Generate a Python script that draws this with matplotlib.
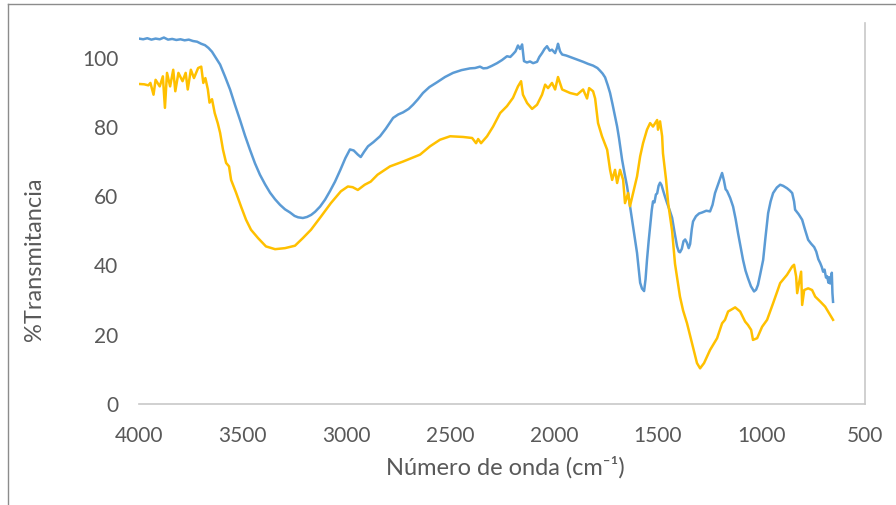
import matplotlib
matplotlib.use("Agg")
import matplotlib.pyplot as plt
from matplotlib.lines import Line2D

# FTIR spectra, wavenumber (cm-1) vs %T
blue_wn = [
    4000, 3980, 3960, 3940, 3920, 3900, 3880, 3860, 3840, 3820, 3800, 3780,
    3760, 3740, 3720, 3700, 3682, 3665, 3648, 3630, 3609, 3585, 3561, 3537,
    3513, 3489, 3465, 3441, 3417, 3392, 3368, 3344, 3320, 3296, 3272, 3250,
    3233, 3210, 3190, 3170, 3151, 3127, 3103, 3079, 3055, 3030, 3005, 2983,
    2965, 2945, 2931, 2915, 2896, 2870, 2838, 2810, 2775, 2750, 2727, 2700,
    2679, 2655, 2631, 2600, 2563, 2525, 2486, 2445, 2404, 2380, 2356, 2340,
    2322, 2300, 2274, 2250, 2226, 2210, 2197, 2185, 2173, 2163, 2153, 2144,
    2130, 2115, 2100, 2081, 2070, 2057, 2045, 2033, 2020, 2009, 1994, 1985,
    1980, 1970, 1960, 1940, 1922, 1890, 1859, 1835, 1811, 1790, 1777, 1765,
    1753, 1740, 1729, 1717, 1705, 1695, 1686, 1671, 1659, 1647, 1635, 1623,
    1611, 1599, 1590, 1584, 1575, 1570, 1565, 1558, 1551, 1543, 1536, 1528,
    1522, 1515, 1508, 1502, 1495, 1488, 1481, 1474, 1465, 1454, 1442, 1430,
    1418, 1406, 1398, 1392, 1383, 1375, 1367, 1358, 1350, 1343, 1335, 1329,
    1315, 1300, 1285, 1265, 1247, 1235, 1223, 1205, 1189, 1180, 1172, 1165,
    1150, 1136, 1124, 1112, 1100, 1088, 1076, 1064, 1050, 1035, 1025, 1016,
    1005, 991, 980, 967, 955, 943, 925, 909, 895, 876, 862, 851,
    842, 837, 820, 803, 790, 774, 760, 745, 735, 725, 716, 708,
    702, 695, 688, 683, 676, 672, 668, 664, 660, 657, 654,
]
blue_t = [
    105.5, 105.3, 105.6, 105.2, 105.5, 105.3, 105.8, 105.2, 105.4, 105.1, 105.3, 105.0,
    105.2, 104.8, 104.6, 104.0, 103.6, 102.8, 101.7, 100.0, 98.0, 94.5, 90.8, 86.3,
    82.0, 77.5, 73.4, 69.5, 66.2, 63.4, 61.0, 59.1, 57.5, 56.2, 55.3, 54.3,
    53.9, 53.7, 54.0, 54.6, 55.5, 57.0, 59.0, 61.5, 64.2, 67.5, 71.0, 73.5,
    73.2, 72.0, 71.3, 72.8, 74.4, 75.6, 77.3, 79.5, 82.6, 83.6, 84.2, 85.2,
    86.4, 88.0, 89.8, 91.5, 92.9, 94.4, 95.6, 96.4, 96.9, 97.0, 97.4, 96.9,
    97.0, 97.6, 98.4, 99.3, 100.4, 100.2, 101.0, 101.8, 103.5, 102.5, 103.8, 99.0,
    98.6, 98.9, 98.4, 98.8, 100.2, 101.3, 102.5, 103.3, 102.0, 102.3, 101.3, 102.8,
    104.0, 101.8, 100.9, 100.6, 100.2, 99.5, 98.8, 98.2, 97.7, 97.0, 96.2, 95.4,
    94.3, 92.0, 89.8, 86.5, 83.0, 80.1, 76.8, 70.5, 66.5, 62.8, 58.0, 53.2,
    48.5, 43.6, 38.5, 35.0, 33.3, 33.0, 32.6, 36.0, 41.6, 47.0, 51.2, 56.0,
    58.5, 58.2, 60.5, 60.8, 63.0, 63.9, 63.2, 61.8, 60.0, 58.0, 56.0, 53.8,
    49.5, 45.5, 44.0, 43.8, 44.8, 47.0, 47.5, 46.5, 45.0, 46.2, 50.5, 52.7,
    54.2, 55.0, 55.3, 55.8, 55.6, 57.5, 60.9, 64.0, 66.7, 64.5, 62.0, 61.5,
    59.5, 57.0, 53.5, 49.3, 45.5, 41.6, 38.5, 36.3, 34.0, 32.5, 33.0, 34.4,
    37.5, 41.6, 48.0, 55.1, 58.5, 60.9, 62.5, 63.3, 63.0, 62.3, 61.6, 60.9,
    58.5, 56.1, 54.8, 53.2, 50.5, 47.4, 46.3, 45.3, 44.0, 41.8, 40.7, 39.5,
    38.2, 38.8, 36.5, 36.9, 35.0, 36.6, 34.8, 35.4, 37.9, 32.0, 29.5,
]

orange_wn = [
    4000, 3975, 3955, 3945, 3930, 3920, 3900, 3885, 3875, 3865, 3850, 3835,
    3825, 3810, 3790, 3775, 3765, 3750, 3735, 3715, 3700, 3690, 3680, 3668,
    3660, 3648, 3635, 3620, 3609, 3595, 3580, 3566, 3556, 3532, 3508, 3484,
    3460, 3426, 3388, 3344, 3296, 3248, 3210, 3171, 3123, 3075, 3027, 2993,
    2970, 2945, 2912, 2883, 2850, 2815, 2790, 2727, 2645, 2597, 2549, 2500,
    2438, 2394, 2375, 2365, 2351, 2322, 2293, 2259, 2226, 2197, 2173, 2158,
    2149, 2129, 2105, 2081, 2057, 2042, 2028, 2009, 1994, 1980, 1960, 1922,
    1888, 1859, 1840, 1830, 1811, 1801, 1787, 1768, 1743, 1729, 1719, 1705,
    1695, 1681, 1666, 1657, 1642, 1633, 1618, 1599, 1584, 1570, 1551, 1536,
    1522, 1502, 1498, 1488, 1478, 1474, 1459, 1449, 1430, 1416, 1392, 1377,
    1358, 1334, 1310, 1295, 1276, 1247, 1213, 1189, 1175, 1160, 1126, 1102,
    1078, 1064, 1049, 1040, 1020, 996, 972, 943, 909, 876, 851, 842,
    832, 827, 818, 808, 803, 793, 774, 755, 740, 716, 692, 678,
    659, 654,
]
orange_t = [
    92.4, 92.3, 92.0, 92.7, 89.3, 93.6, 91.7, 94.6, 85.5, 95.6, 91.7, 96.5,
    90.3, 95.6, 93.2, 95.6, 90.8, 96.5, 94.1, 97.0, 97.4, 92.7, 94.1, 90.8,
    87.0, 88.0, 84.0, 81.0, 78.3, 73.4, 69.6, 68.6, 64.7, 61.0, 57.0, 53.2,
    50.3, 47.9, 45.5, 44.7, 45.0, 45.7, 47.9, 50.3, 54.1, 58.0, 61.4, 62.8,
    62.6, 61.8, 63.3, 64.2, 66.2, 67.6, 68.6, 70.0, 72.0, 74.4, 76.3, 77.3,
    77.1, 76.8, 75.3, 76.5, 75.3, 77.3, 80.1, 84.0, 86.0, 88.4, 91.7, 93.2,
    89.3, 86.9, 85.2, 86.4, 89.3, 92.2, 91.2, 92.7, 90.8, 94.4, 90.8, 89.8,
    89.3, 90.8, 88.2, 91.2, 90.3, 88.2, 81.1, 77.3, 73.4, 67.6, 64.7, 67.6,
    63.8, 67.6, 64.7, 58.0, 60.9, 57.1, 60.9, 65.7, 71.5, 75.3, 79.2, 81.1,
    80.1, 82.0, 79.2, 81.6, 77.3, 72.4, 64.7, 58.0, 50.0, 40.5, 31.0, 27.0,
    23.3, 17.5, 11.8, 10.3, 11.8, 15.6, 19.0, 23.3, 24.3, 26.7, 27.9, 26.7,
    23.8, 22.8, 21.4, 18.5, 19.0, 22.3, 24.3, 29.1, 34.9, 37.3, 39.7, 40.2,
    36.8, 32.0, 34.9, 38.2, 28.6, 32.9, 33.4, 32.9, 31.0, 29.6, 28.1, 26.7,
    24.8, 24.3,
]

x_ticks = [4000, 3500, 3000, 2500, 2000, 1500, 1000, 500]
y_ticks = [0, 20, 40, 60, 80, 100]

text_color = "#595959"
plt.rcParams["font.family"] = ["Lato", "DejaVu Sans"]

fig = plt.figure(figsize=(8.96, 5.05), dpi=100)
ax = fig.add_axes([139 / 896, 1 - 404 / 505, 726 / 896, 381 / 505])

ax.plot(blue_wn, blue_t, color="#5B9BD5", linewidth=1.8)
ax.plot(orange_wn, orange_t, color="#FFC000", linewidth=1.8)

ax.set_xlim(4000, 500)
ax.set_ylim(0, 110)
ax.set_xticks(x_ticks)
ax.set_yticks(y_ticks)
ax.tick_params(length=0, labelsize=15, labelcolor=text_color)
ax.tick_params(axis="x", pad=16)
ax.tick_params(axis="y", pad=15)

for side in ["top", "left"]:
    ax.spines[side].set_visible(False)
for side in ["bottom", "right"]:
    ax.spines[side].set_color("#C8C8C8")
    ax.spines[side].set_linewidth(1.2)

fig.text(35 / 896, 1 - 259 / 505, "%Transmitancia", rotation=90,
         ha="center", va="center", fontsize=17, color=text_color)
fig.text(505 / 896, 1 - 467 / 505, "Número de onda (cm⁻¹)",
         ha="center", va="center", fontsize=17, color=text_color)

# chart frame edges
fig.add_artist(Line2D([8 / 896, 8 / 896], [0, 1 - 4 / 505],
                      transform=fig.transFigure, color="#8C8C8C", linewidth=1))
fig.add_artist(Line2D([8 / 896, 1], [1 - 4 / 505, 1 - 4 / 505],
                      transform=fig.transFigure, color="#8C8C8C", linewidth=1))

fig.savefig("out.png", dpi=100)
plt.close()
